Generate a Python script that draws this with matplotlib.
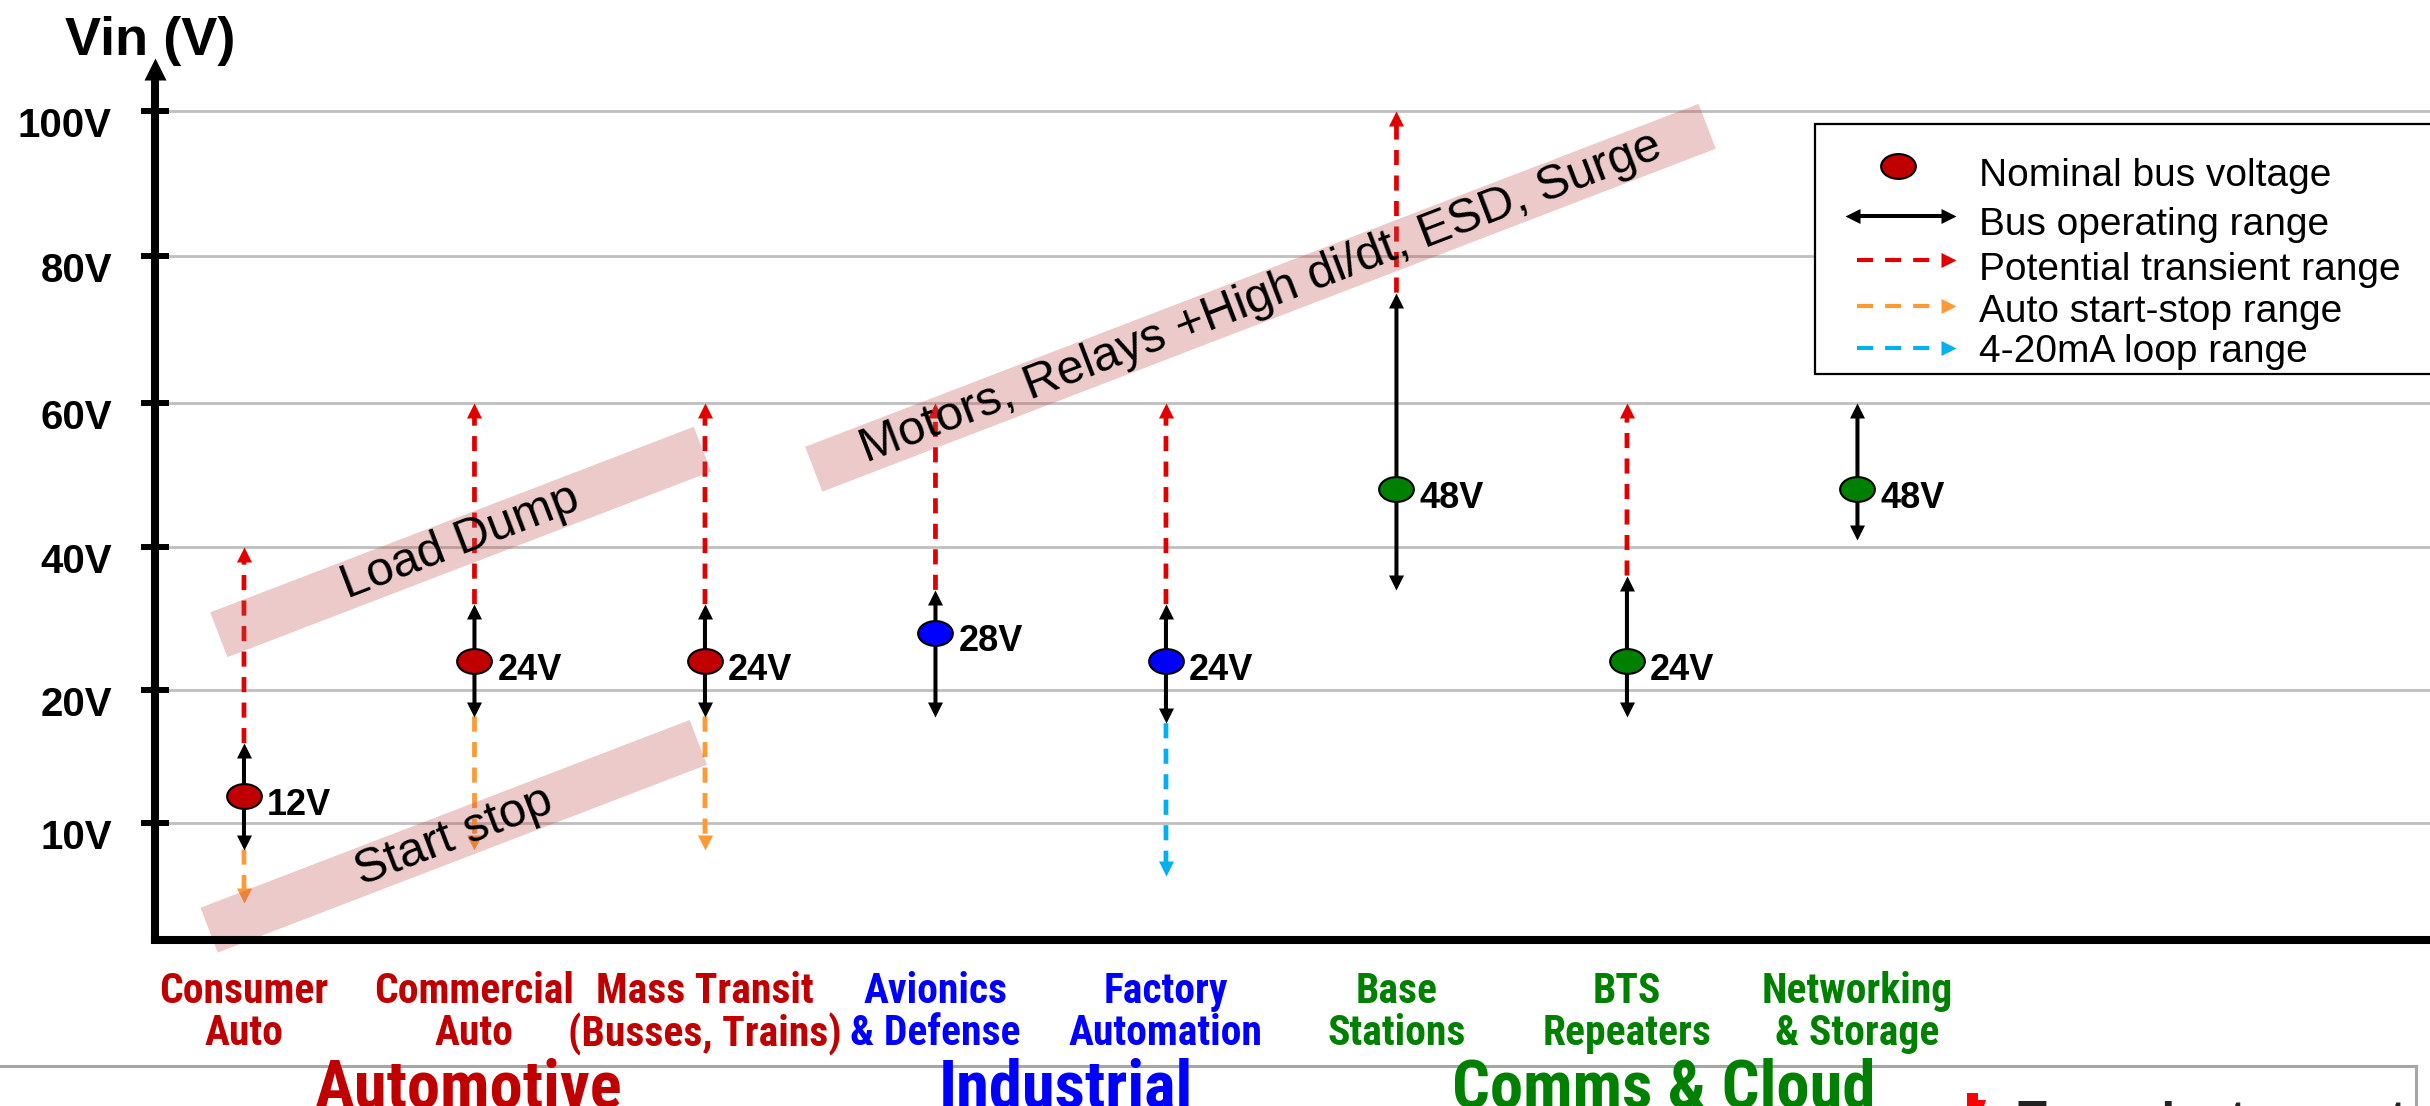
import numpy as np
import matplotlib
matplotlib.use("Agg")
import matplotlib.pyplot as plt
import matplotlib.transforms as mtransforms
from matplotlib.lines import Line2D
from matplotlib.patches import Rectangle, Polygon
from matplotlib.path import Path

# market segments and their bus voltages (V)
segments = ["Consumer\nAuto", "Commercial\nAuto", "Mass Transit\n(Busses, Trains)",
            "Avionics\n& Defense", "Factory\nAutomation",
            "Base\nStations", "BTS\nRepeaters", "Networking\n& Storage"]
segment_group = [0, 0, 0, 1, 1, 2, 2, 2]
groups = ["Automotive", "Industrial", "Comms & Cloud"]
group_colors = ["#c00000", "#0000ff", "#008000"]

nominal_v = [12, 24, 24, 28, 24, 48, 24, 48]
op_low = [8, 18, 18, 18, 17.5, 34, 18, 41]
op_high = [16, 32, 32, 34, 32, 75, 36, 60]
transient_high = [40, 60, 60, 60, 60, 100, 60, None]
start_stop_low = [4, 8, 8, None, None, None, None, None]
loop_low = [None, None, None, None, 6, None, None, None]

volt_ticks = [10, 20, 40, 60, 80, 100]

legend_labels = ["Nominal bus voltage", "Bus operating range",
                 "Potential transient range", "Auto start-stop range",
                 "4-20mA loop range"]

# tilted stress bands: text, x (segment index), centre voltage, length in px
zones = [("Load Dump", 0.94, 40.7, 518),
         ("Start stop", 0.91, 9.0, 524),
         ("Motors, Relays +High di/dt, ESD, Surge", 4.41, 74.3, 957)]

RED, ORANGE, CYAN = "#e00000", "#ff9933", "#00b0f0"
DASH = (0, (3.2, 2.2))

# the voltage axis is stretched below 20V: piecewise linear mapping
V_NODES = [0, 10, 20, 40, 60, 80, 100, 120]
P_NODES = [-0.924, 0, 0.924, 1.917, 2.917, 3.94, 4.944, 5.944]


def v_to_p(v):
    return np.interp(v, V_NODES, P_NODES)


def p_to_v(p):
    return np.interp(p, P_NODES, V_NODES)


# arrow heads and dots as custom markers (tip sits on the data point)
def tri(verts):
    return Path(verts + [verts[0]], [Path.MOVETO, Path.LINETO, Path.LINETO, Path.CLOSEPOLY])


HEAD_UP = tri([(-0.5, -1), (0.5, -1), (0, 0)])
HEAD_DOWN = tri([(-0.5, 1), (0.5, 1), (0, 0)])
HEAD_RIGHT = tri([(-1, -0.5), (-1, 0.5), (0, 0)])
HEAD_LEFT = tri([(1, -0.5), (1, 0.5), (0, 0)])
ELLIPSE = Path.unit_circle().transformed(mtransforms.Affine2D().scale(1.4, 1.0))
HEAD_MS = 21.6
HEAD_L = 10.8

W, H, DPI = 2430, 1106, 100
plt.rcParams["font.family"] = "Liberation Sans"
NARROW = ["Roboto Condensed", "Liberation Sans"]

fig = plt.figure(figsize=(W / DPI, H / DPI), dpi=DPI)
px = mtransforms.Affine2D().scale(1, -1).translate(0, H)  # pixels, origin top-left

ax = fig.add_axes([155 / W, 1 - 940 / H, 1 - 155 / W, (940 - 58) / H])
ax.set_yscale("function", functions=(v_to_p, p_to_v))
ax.set_ylim(1.2, 107.4)
ax.set_xlim(-0.386, 9.484)
ax.set_autoscale_on(False)

for s in ("top", "right", "left"):
    ax.spines[s].set_visible(False)
ax.spines["bottom"].set_linewidth(5.8)
ax.spines["bottom"].set_zorder(9)

# vertical axis with arrow head
ax.plot([0, 0], [-0.005, 1 - 20 / 882], transform=ax.transAxes, color="k", lw=5.8,
        solid_capstyle="butt", clip_on=False, zorder=9)
ax.plot([0], [1], transform=ax.transAxes, marker=HEAD_UP, ms=31.7, mew=0, color="k",
        ls="none", clip_on=False, zorder=9)

ax.set_yticks(volt_ticks, [f"{v}V" for v in volt_ticks], fontsize=29, fontweight="bold")
ax.tick_params(axis="y", direction="inout", length=20, width=4.3, pad=21, color="k")
ax.yaxis.grid(True, color="#bfbfbf", lw=2)
ax.set_axisbelow(True)
shift = mtransforms.ScaledTranslation(0, -11 / DPI, fig.dpi_scale_trans)
for lab in ax.get_yticklabels():
    lab.set_transform(lab.get_transform() + shift)

ax.set_xticks(range(len(segments)), segments)
ax.tick_params(axis="x", length=0, pad=22)
for lab, g in zip(ax.get_xticklabels(), segment_group):
    lab.set_color(group_colors[g])
    lab.set_fontfamily(NARROW)
    lab.set_fontsize(30)
    lab.set_fontweight("bold")
    lab.set_linespacing(1.05)


def shaft(x, v0, v1, color, lw, style, shrink0=0.0, z=3):
    ax.annotate("", xy=(x, v1), xytext=(x, v0), zorder=z,
                arrowprops=dict(arrowstyle="-", color=color, lw=lw, linestyle=style,
                                capstyle="butt", shrinkA=shrink0,
                                shrinkB=HEAD_L * 0.85))


def head(x, v, marker, color, z=4):
    ax.plot([x], [v], marker=marker, ms=HEAD_MS, mew=0, color=color, ls="none",
            clip_on=False, zorder=z)


for i in range(len(segments)):
    color = group_colors[segment_group[i]]
    if transient_high[i] is not None:
        shaft(i, op_high[i], transient_high[i], RED, 3.4, DASH)
        head(i, transient_high[i], HEAD_UP, RED)
    if start_stop_low[i] is not None:
        shaft(i, op_low[i], start_stop_low[i], ORANGE, 3.4, DASH)
        head(i, start_stop_low[i], HEAD_DOWN, ORANGE)
    if loop_low[i] is not None:
        shaft(i, op_low[i], loop_low[i], CYAN, 3.4, DASH)
        head(i, loop_low[i], HEAD_DOWN, CYAN)
    shaft(i, op_low[i], op_high[i], "k", 2.9, "solid", shrink0=HEAD_L * 0.85, z=4)
    head(i, op_high[i], HEAD_UP, "k", z=5)
    head(i, op_low[i], HEAD_DOWN, "k", z=5)
    ax.plot([i], [nominal_v[i]], marker=ELLIPSE, ms=25, mfc=color, mec="k", mew=1.5,
            ls="none", zorder=6)
    ax.annotate(f"{nominal_v[i]}V", xy=(i, nominal_v[i]), xytext=(16.5, -6.5),
                textcoords="offset points", ha="left", va="center", fontsize=26,
                fontweight="bold", zorder=6)

# translucent stress bands
for text, xc, vc, length in zones:
    tr = mtransforms.Affine2D().rotate_deg(21) + mtransforms.ScaledTranslation(xc, vc, ax.transData)
    ax.add_artist(Rectangle((-length / 2, -24), length, 48, transform=tr, fc="#c0504d",
                            alpha=0.3, ec="none", zorder=7, clip_on=False))
    ax.text(xc, vc, text, rotation=21, rotation_mode="anchor", ha="center", va="center",
            fontsize=35, zorder=8)

# axis title and group names
fig.text(150, 55, "Vin (V)", transform=px, ha="center", va="baseline", fontsize=39,
         fontweight="bold")
for name, color, gx in zip(groups, group_colors, [468, 1066, 1664]):
    fig.text(gx, 1108, name, transform=px, ha="center", va="baseline", fontsize=48,
             fontweight="bold", color=color, fontfamily=NARROW)

# legend box
fig.add_artist(Rectangle((1815, 124), 700, 250, transform=px, fc="white", ec="k", lw=1.6,
                         zorder=10))
row_y = [176, 225, 270, 312, 352]
mark_y = [166, 216, 260, 306, 348]
for lab, ty in zip(legend_labels, row_y):
    fig.text(1979, ty, lab, transform=px, ha="left", va="center", fontsize=28, zorder=11)
fig.add_artist(Line2D([1898], [mark_y[0]], transform=px, marker=ELLIPSE, ms=25,
                      mfc="#c00000", mec="k", mew=1.5, ls="none", zorder=11))
fig.add_artist(Line2D([1857, 1944], [mark_y[1]] * 2, transform=px, color="k", lw=2.9,
                      solid_capstyle="butt", zorder=11))
for xe, mk in ((1956, HEAD_RIGHT), (1845, HEAD_LEFT)):
    fig.add_artist(Line2D([xe], [mark_y[1]], transform=px, marker=mk, ms=HEAD_MS, mew=0,
                          color="k", ls="none", zorder=11))
for c, y in zip((RED, ORANGE, CYAN), mark_y[2:]):
    fig.add_artist(Line2D([1857, 1941], [y, y], transform=px, color=c, lw=3,
                          ls=(0, (3.84, 2.9)), dash_capstyle="butt", zorder=11))
    fig.add_artist(Line2D([1956], [y], transform=px, marker=HEAD_RIGHT, ms=HEAD_MS,
                          mew=0, color=c, ls="none", zorder=11))

# slide footer
fig.add_artist(Line2D([0, 2416], [1066, 1066], transform=px, color="#a6a6a6", lw=2.2))
fig.add_artist(Line2D([2416, 2416], [1066, 1110], transform=px, color="#a6a6a6", lw=2.2))
fig.add_artist(Polygon([(1967, 1093), (1978, 1093), (1978, 1100), (1986, 1100),
                        (1984, 1106), (1967, 1106)], closed=True, transform=px,
                       fc="#ff0000", ec="none"))
fig.text(2018, 1099, "Texas Instruments", transform=px, ha="left", va="top", fontsize=34,
         fontweight="bold", color="#222222")

fig.savefig("out.png", dpi=DPI)
